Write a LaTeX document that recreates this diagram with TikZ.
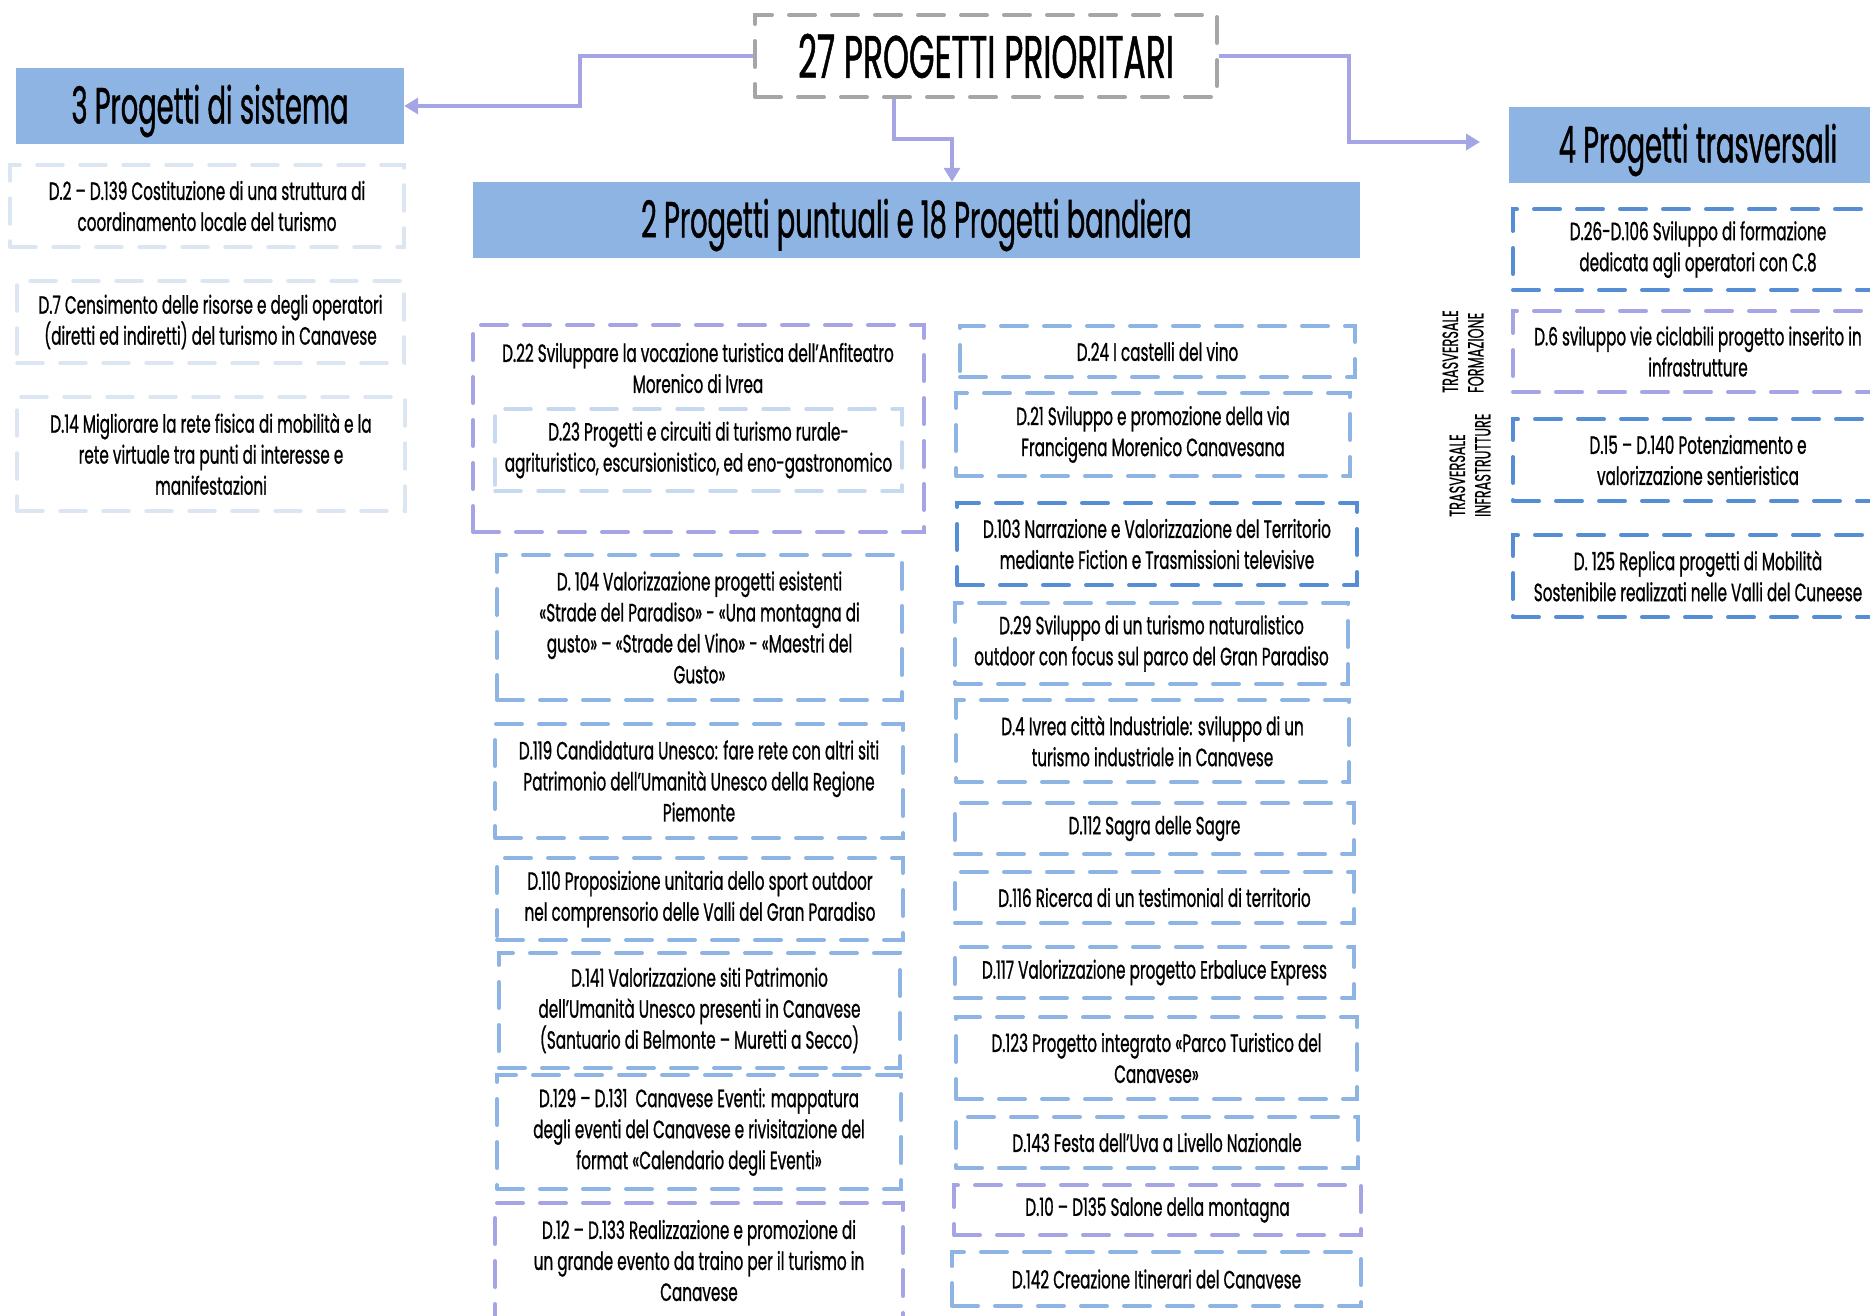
\documentclass[tikz,border=0pt]{standalone}
\usepackage{fontspec}
\setmainfont{Poppins}[FakeStretch=0.61,FakeBold=0.8]
\newfontfamily\headfont{Poppins}[FakeStretch=0.535,FakeBold=0.8]
\newfontfamily\titlefont{Poppins}[FakeStretch=0.55,FakeBold=0.8]
\newfontfamily\vlabfont{Poppins}[FakeStretch=0.585,FakeBold=0.5]
\usetikzlibrary{arrows.meta}
\definecolor{hdr}{HTML}{8EB4E3}
\definecolor{bl}{HTML}{8EB4E3}
\definecolor{dbl}{HTML}{558ED5}
\definecolor{lav}{HTML}{A5A5E6}
\definecolor{pale}{HTML}{DCE6F2}
\definecolor{pale2}{HTML}{C6D9F1}
\definecolor{gry}{HTML}{A6A6A6}
\tikzset{
  base/.style={rectangle, inner sep=0pt, align=center, font={\fontsize{25}{31}\selectfont}},
  dbox/.style={base, line width=4pt, dash pattern=on 26pt off 17pt, line cap=round},
  bluebox/.style={dbox, draw=bl},
  dbluebox/.style={dbox, draw=dbl},
  lavbox/.style={dbox, draw=lav},
  palebox/.style={dbox, draw=pale, line width=3.5pt},
  pale2box/.style={dbox, draw=pale2, line width=3.5pt},
  titlebox/.style={dbox, draw=gry, font={\titlefont\fontsize{60}{70}\selectfont}},
  hdrbox/.style={base, fill=hdr, font={\headfont\fontsize{51}{60}\selectfont}},
  hdrtxt/.style={inner sep=0pt, font={\headfont\fontsize{51}{60}\selectfont}},
  txt/.style={base},
  vlab/.style={rotate=90, anchor=west, align=left, inner sep=0pt, font={\vlabfont\fontsize{22}{25.5}\selectfont}},
  conn/.style={draw=lav, line width=4.5pt, -{Triangle[length=14pt,width=16pt]}},
}
\newcommand{\mkbox}[7]{\node[#2,minimum width={(#5-#3)*1pt},minimum height={(#6-#4)*1pt}] (#1) at ({(#3+#5)/2},{(#4+#6)/2}) {#7};}
\newcommand{\mkhdr}[6]{\node[hdrbox,minimum width={(#5-#3)*1pt},minimum height={(#6-#4)*1pt}] (#1) at ({(#3+#5)/2},{(#4+#6)/2}) {};
  \node[hdrtxt] (#1t) at ([yshift=-5pt]#1.center) {#2};}
\begin{document}
\begin{tikzpicture}[x=1pt,y=-1pt]
\useasboundingbox (0,0) rectangle (1870,1315);
% headers
\mkbox{h0}{titlebox}{755}{15}{1217}{97}{27 PROGETTI PRIORITARI}
\mkhdr{h1}{3 Progetti di sistema}{16}{68}{404}{144}
\mkhdr{h2}{2 Progetti puntuali e 18 Progetti bandiera}{473}{182}{1360}{258}
\mkhdr{h3}{4 Progetti trasversali}{1509}{107}{1887}{183}
% left column
\mkbox{l1}{palebox}{10}{165}{404}{247}{D.2 – D.139 Costituzione di una struttura di\\coordinamento locale del turismo}
\mkbox{l2}{palebox}{17}{281}{404}{363}{D.7 Censimento delle risorse e degli operatori\\(diretti ed indiretti) del turismo in Canavese}
\mkbox{l3}{palebox}{17}{397}{405}{511}{D.14 Migliorare la rete fisica di mobilità e la\\rete virtuale tra punti di interesse e\\manifestazioni}
% center column
\mkbox{c1}{lavbox}{473}{325}{924}{532}{}
\node[txt] (c1t) at (698,368) {D.22 Sviluppare la vocazione turistica dell'Anfiteatro\\Morenico di Ivrea};
\mkbox{c2}{pale2box}{495}{409}{902}{491}{D.23 Progetti e circuiti di turismo rurale-\\agrituristico, escursionistico, ed eno-gastronomico}
\mkbox{c3}{bluebox}{497}{555}{902}{700}{D. 104 Valorizzazione progetti esistenti\\«Strade del Paradiso» - «Una montagna di\\gusto» – «Strade del Vino» - «Maestri del\\Gusto»}
\mkbox{c4}{bluebox}{495}{724}{903}{838}{D.119 Candidatura Unesco: fare rete con altri siti\\Patrimonio dell’Umanità Unesco della Regione\\Piemonte}
\mkbox{c5}{bluebox}{497}{858}{903}{940}{D.110 Proposizione unitaria dello sport outdoor\\nel comprensorio delle Valli del Gran Paradiso}
\mkbox{c6}{bluebox}{499}{953}{900}{1068}{D.141 Valorizzazione siti Patrimonio\\dell’Umanità Unesco presenti in Canavese\\(Santuario di Belmonte – Muretti a Secco)}
\mkbox{c7}{bluebox}{497}{1075}{901}{1189}{D.129 – D.131\ \ Canavese Eventi: mappatura\\degli eventi del Canavese e rivisitazione del\\format «Calendario degli Eventi»}
\mkbox{c8}{lavbox}{495}{1203}{903}{1318}{D.12 – D.133 Realizzazione e promozione di\\un grande evento da traino per il turismo in\\Canavese}
% right-middle column
\mkbox{r1}{bluebox}{960}{326}{1355}{377}{D.24 I castelli del vino}
\mkbox{r2}{bluebox}{956}{393}{1350}{476}{D.21 Sviluppo e promozione della via\\Francigena Morenico Canavesana}
\mkbox{r3}{dbluebox}{957}{503}{1357}{585}{D.103 Narrazione e Valorizzazione del Territorio\\mediante Fiction e Trasmissioni televisive}
\mkbox{r4}{bluebox}{955}{603}{1348}{684}{D.29 Sviluppo di un turismo naturalistico\\outdoor con focus sul parco del Gran Paradiso}
\mkbox{r5}{bluebox}{956}{700}{1349}{782}{D.4 Ivrea città Industriale: sviluppo di un\\turismo industriale in Canavese}
\mkbox{r6}{bluebox}{955}{803}{1354}{854}{D.112 Sagra delle Sagre}
\mkbox{r7}{bluebox}{955}{872}{1354}{923}{D.116 Ricerca di un testimonial di territorio}
\mkbox{r8}{bluebox}{955}{947}{1354}{998}{D.117 Valorizzazione progetto Erbaluce Express}
\mkbox{r9}{bluebox}{956}{1017}{1357}{1099}{D.123 Progetto integrato «Parco Turistico del\\Canavese»}
\mkbox{r10}{bluebox}{956}{1117}{1358}{1168}{D.143 Festa dell’Uva a Livello Nazionale}
\mkbox{r11}{lavbox}{954}{1185}{1361}{1235}{D.10 – D135 Salone della montagna}
\mkbox{r12}{bluebox}{952}{1252}{1361}{1306}{D.142 Creazione Itinerari del Canavese}
% right column
\mkbox{t1}{dbluebox}{1513}{209}{1883}{290}{D.26-D.106 Sviluppo di formazione\\dedicata agli operatori con C.8}
\mkbox{t2}{lavbox}{1513}{311}{1883}{392}{D.6 sviluppo vie ciclabili progetto inserito in\\infrastrutture}
\mkbox{t3}{dbluebox}{1513}{419}{1883}{501}{D.15 – D.140 Potenziamento e\\valorizzazione sentieristica}
\mkbox{t4}{dbluebox}{1513}{535}{1883}{617}{D. 125 Replica progetti di Mobilità\\Sostenibile realizzati nelle Valli del Cuneese}
% vertical labels
\node[vlab] (v1) at (1463,393) {TRASVERSALE\\FORMAZIONE};
\node[vlab] (v2) at (1470,517) {TRASVERSALE\\INFRASTRUTTURE};
% connectors
\coordinate (j1) at (580,80);
\draw[conn] (h0.west) -| (j1) |- (h1.east);
\coordinate (j3) at (1349,100);
\coordinate (e3) at (1480,142);
\draw[conn] (h0.east) -| (j3) |- (e3);
\coordinate (j4) at (894,139);
\coordinate (j5) at (952,139);
\draw[conn] (h0.south -| j4) -- (j4) -- (j5) -- (j5 |- h2.north);
\end{tikzpicture}
\end{document}
